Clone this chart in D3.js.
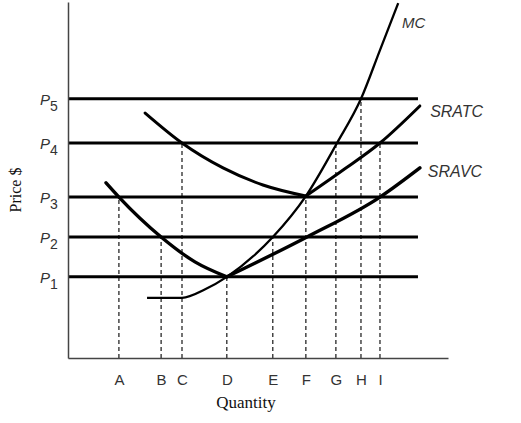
<!DOCTYPE html>
<html><head><meta charset="utf-8">
<script src="https://cdn.jsdelivr.net/npm/d3@7"></script>
<style>html,body{margin:0;padding:0;background:#fff;}svg{display:block;}</style>
</head><body>
<svg id="chart" width="521" height="423"></svg>
<script>
// ---- data (quantity units 0..10, price units 0..10) ----
const qLabels = ["A","B","C","D","E","F","G","H","I"];
const qValues = [1.34, 2.45, 3.0, 4.18, 5.39, 6.26, 7.05, 7.71, 8.21];
const priceLabels = ["1","2","3","4","5"];
const priceValues = [2.28, 3.40, 4.52, 6.04, 7.28];
// which price level each dashed quantity guide reaches up to (index into priceValues)
const qPriceLevel = [2, 1, 3, 0, 1, 2, 3, 4, 3];
const priceLineEnd = 9.21;

const mcCurve = [[2.08,1.69],[3.0,1.69],[3.61,1.93],[4.18,2.28],[5.39,3.40],[6.26,4.55],[7.08,6.04],[7.71,7.28],[8.21,8.65],[8.69,9.97]];
const sratcLeft = [[2.03,6.88],[3.0,6.04],[4.08,5.34],[5.13,4.86],[6.26,4.55]];
const sratcRight = [[6.26,4.55],[7.24,5.28],[8.21,6.04],[9.26,7.08]];
const sravcLeft = [[1.0,4.92],[1.34,4.52],[2.45,3.40],[3.34,2.70],[4.18,2.28]];
const sravcRight = [[4.18,2.28],[6.29,3.40],[8.21,4.52],[9.26,5.34]];
const curveNames = ["MC","SRATC","SRAVC"];
const curveLabelPos = [[8.79,9.27],[9.53,6.77],[9.47,5.08]];
const curveLabelSize = [15,16,16];

// ---- layout ----
const svg = d3.select("#chart");
const x = d3.scaleLinear().domain([0,10]).range([68,448]);
const y = d3.scaleLinear().domain([0,10]).range([358,2]);

// price horizontal lines
svg.append("g").selectAll("line").data(priceValues).join("line")
  .attr("x1", x(0)).attr("x2", x(priceLineEnd))
  .attr("y1", d=>y(d)).attr("y2", d=>y(d))
  .attr("stroke","#000").attr("stroke-width",3);

// dashed guides
svg.append("g").selectAll("line").data(qValues).join("line")
  .attr("x1", d=>x(d)).attr("x2", d=>x(d))
  .attr("y1", y(0)).attr("y2", (d,i)=>y(priceValues[qPriceLevel[i]]))
  .attr("stroke","#000").attr("stroke-width",1.1).attr("stroke-dasharray","4,3");

// axes (no ticks)
const xAxis = d3.axisBottom(x).tickValues(qValues).tickFormat((d,i)=>qLabels[i]).tickSize(0).tickPadding(16);
const gx = svg.append("g").attr("transform",`translate(0,${y(0)})`).call(xAxis);
gx.select(".domain").attr("stroke","#444").attr("stroke-width",1.5);
gx.selectAll("text").attr("font-family","'Liberation Sans', Arial, sans-serif").attr("font-size",15).attr("fill","#333");

const yAxis = d3.axisLeft(y).tickValues(priceValues).tickFormat("").tickSize(0);
const gy = svg.append("g").attr("transform",`translate(${x(0)},0)`).call(yAxis);
gy.select(".domain").attr("stroke","#444").attr("stroke-width",1.5);

// P labels with subscripts
const pl = svg.append("g").selectAll("text").data(priceValues).join("text")
  .attr("x", 40).attr("y", d=>y(d)+6)
  .attr("font-family","'Liberation Sans', Arial, sans-serif").attr("font-size",15)
  .attr("font-style","italic").attr("fill","#333");
pl.append("tspan").text("P");
pl.append("tspan").attr("dy",6).attr("font-size",14).attr("font-style","normal").text((d,i)=>priceLabels[i]);

// curves
const line = d3.line().x(d=>x(d[0])).y(d=>y(d[1])).curve(d3.curveMonotoneX);
svg.append("path").attr("d", line(mcCurve)).attr("fill","none").attr("stroke","#000").attr("stroke-width",2.3);
[sratcLeft, sratcRight].forEach(seg=>svg.append("path").attr("d", line(seg)).attr("fill","none").attr("stroke","#000").attr("stroke-width",3).attr("stroke-linecap","round"));
[sravcLeft, sravcRight].forEach(seg=>svg.append("path").attr("d", line(seg)).attr("fill","none").attr("stroke","#000").attr("stroke-width",3.4).attr("stroke-linecap","round"));

// curve labels
svg.append("g").selectAll("text").data(curveNames).join("text")
  .attr("x",(d,i)=>x(curveLabelPos[i][0])).attr("y",(d,i)=>y(curveLabelPos[i][1]))
  .attr("font-family","'Liberation Sans', Arial, sans-serif").attr("font-size",(d,i)=>curveLabelSize[i])
  .attr("font-style","italic").attr("fill","#333").text(d=>d);

// axis titles
svg.append("text").attr("x",246).attr("y",408).attr("text-anchor","middle")
  .attr("font-family","'Liberation Serif', 'Times New Roman', serif").attr("font-size",17).attr("fill","#111").text("Quantity");
svg.append("text").attr("transform","translate(21,190) rotate(-90)").attr("text-anchor","middle")
  .attr("font-family","'Liberation Serif', 'Times New Roman', serif").attr("font-size",16).attr("fill","#111").text("Price $");
</script>
</body></html>
